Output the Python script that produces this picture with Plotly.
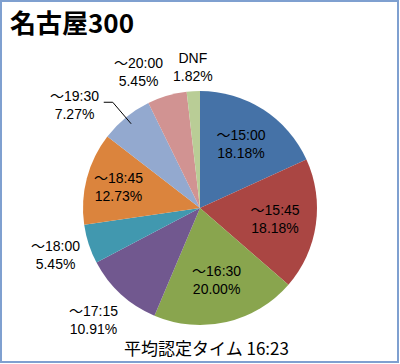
import math
import plotly.graph_objects as go

categories = ["～15:00", "～15:45", "～16:30", "～17:15", "～18:00", "～18:45", "～19:30", "～20:00", "DNF"]
shares = [18.18, 18.18, 20.00, 10.91, 5.45, 12.73, 7.27, 5.45, 1.82]
colors = ["#4572A7", "#AA4643", "#89A54E", "#71588F", "#4198AF", "#DB843D", "#93A9CF", "#D19392", "#B9CD96"]
title_text = "名古屋300"
footer_text = "平均認定タイム 16:23"

# label layout configuration (not data)
outside_labels = {"～17:15", "～18:00", "～19:30", "～20:00", "DNF"}
label_nudge_px = {"～19:30": (-29, 15), "～20:00": (-19, 10), "DNF": (2, 11), "～17:15": (-4, 0)}
leader_lines = {"～19:30"}

W, H = 400, 364
FONT = "Liberation Sans, Noto Sans CJK JP"
DOM_X = [0.2075, 0.7925]
DOM_Y = [0.107, 0.75]

texttemplate = ["" if c in outside_labels else "%{label}<br>%{value:.2f}%" for c in categories]

fig = go.Figure(go.Pie(
    labels=categories,
    values=shares,
    sort=False,
    direction="clockwise",
    rotation=0,
    marker=dict(colors=colors, line=dict(width=0)),
    texttemplate=texttemplate,
    textposition=["none" if c in outside_labels else "inside" for c in categories],
    insidetextorientation="horizontal",
    textfont=dict(family=FONT, size=14, color="#000000"),
    insidetextfont=dict(family=FONT, size=14, color="#000000"),
    domain=dict(x=DOM_X, y=DOM_Y),
    showlegend=False,
    hoverinfo="label+value",
))

# geometry of the pie in pixels, derived from the domain
cx = (DOM_X[0] + DOM_X[1]) / 2 * W
cy = H * (1 - (DOM_Y[0] + DOM_Y[1]) / 2)
R = min((DOM_X[1] - DOM_X[0]) * W, (DOM_Y[1] - DOM_Y[0]) * H) / 2

annotations = [
    dict(text="<b>" + title_text + "</b>", x=8 / W, y=1 - 21 / H, xref="paper", yref="paper",
         xanchor="left", yanchor="middle", showarrow=False,
         font=dict(family="Noto Sans CJK JP", size=26, color="#000000")),
    dict(text=footer_text, x=207 / W, y=1 - 347 / H, xref="paper", yref="paper",
         xanchor="center", yanchor="middle", showarrow=False,
         font=dict(family="Noto Sans CJK JP", size=17, color="#000000")),
]
shapes = [
    dict(type="rect", xref="paper", yref="paper", x0=1 / W, x1=398 / W, y0=1 - 362 / H, y1=1 - 1 / H,
         line=dict(color="#7FA0D0", width=2), fillcolor="rgba(0,0,0,0)"),
]

total = sum(shares)
cum = 0.0
for cat, v in zip(categories, shares):
    frac = (cum + v / 2) / total
    cum += v
    if cat not in outside_labels:
        continue
    th = 2 * math.pi * frac
    lx = cx + 1.3 * R * math.sin(th)
    ly = cy - 1.3 * R * math.cos(th)
    nx, ny = label_nudge_px.get(cat, (0, 0))
    lx += nx
    ly += ny
    annotations.append(dict(
        text=f"{cat}<br>{v:.2f}%", x=lx / W, y=1 - ly / H, xref="paper", yref="paper",
        xanchor="center", yanchor="middle", showarrow=False, align="center",
        font=dict(family=FONT, size=14, color="#000000")))
    if cat in leader_lines:
        ex = cx + 0.93 * R * math.sin(th)
        ey = cy - 0.93 * R * math.cos(th)
        sx, sy = lx + 29, ly - 3
        shapes.append(dict(
            type="path", xref="paper", yref="paper",
            path=f"M {sx / W},{1 - sy / H} L {(sx + 9) / W},{1 - sy / H} L {ex / W},{1 - ey / H}",
            line=dict(color="#000000", width=1)))

fig.update_layout(
    width=W, height=H,
    margin=dict(l=0, r=0, t=0, b=0),
    paper_bgcolor="white",
    plot_bgcolor="white",
    annotations=annotations,
    shapes=shapes,
)

fig.write_html("out.html", config={"displayModeBar": False},
               post_script="document.body.style.margin='0';")
